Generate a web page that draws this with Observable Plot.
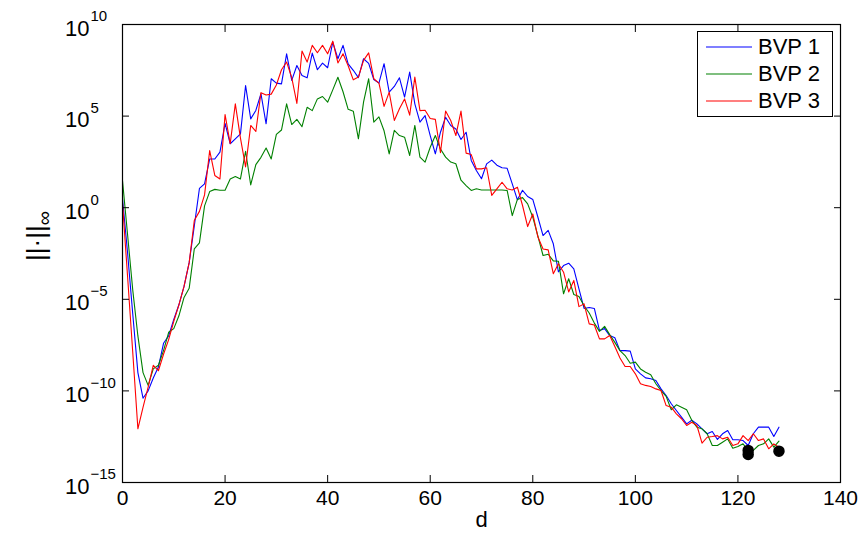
<!DOCTYPE html>
<html><head><meta charset="utf-8">
<script src="https://cdn.jsdelivr.net/npm/d3@7"></script>
<script src="https://cdn.jsdelivr.net/npm/@observablehq/plot@0.6"></script>
<style>
body{margin:0;background:#fff;}
#wrap{position:relative;width:865px;height:538px;font-family:"Liberation Sans",Arial,sans-serif;}
#legend{position:absolute;left:697px;top:31px;width:136px;height:86px;border:1px solid #000;background:#fff;box-sizing:border-box;}
.row{position:absolute;left:0;height:26px;display:flex;align-items:center;font-size:22px;color:#000;}
.row svg{margin-left:8px;margin-right:6px;}
</style></head><body><div id="wrap"><div id="legend"></div></div>
<script>
// x values (d) and log10 of ||.||_inf for each series
const dValues = d3.range(0, 129);
const names = ["BVP 1", "BVP 2", "BVP 3"];
const colors = ["#0000ff", "#008000", "#ff0000"];
const xTicks = [0, 20, 40, 60, 80, 100, 120, 140];
const yTicks = [1e-15, 1e-10, 1e-5, 1e0, 1e5, 1e10];
const yTickExp = ["−15", "−10", "−5", "0", "5", "10"];

const bvp1Log = [0.5,-2.5,-5.8,-9.0,-10.4,-10.0,-9.3,-8.7,-7.4,-7.0,
-6.1,-5.3,-4.3,-3.0,-1.0,1.05,1.3,2.66,2.66,3.03,
4.6,3.49,3.76,4.03,6.67,4.85,5.31,6.22,4.58,7.04,
6.8,6.76,8.4,6.95,7.76,7.22,7.09,8.44,7.53,7.89,
7.64,9.04,8.13,8.86,7.85,7.5,7.1,8.13,7.88,7.0,
6.8,7.86,6.31,6.62,7.09,6.04,7.4,5.67,4.67,5.03,
3.94,2.94,4.12,4.94,4.49,4.3,3.72,4.12,2.58,2.03,
1.58,2.39,2.6,2.32,2.18,2.15,1.3,0.43,0.95,0.61,
0.45,-0.52,-1.52,-1.24,-1.97,-3.5,-3.16,-3.03,-3.34,-4.43,
-5.5,-5.45,-5.5,-6.7,-6.6,-6.98,-7.1,-7.8,-7.8,-7.83,
-8.8,-9.07,-9.29,-9.34,-9.43,-9.89,-10.25,-10.7,-11.07,-11.43,
-11.8,-11.6,-11.8,-12.07,-12.34,-12.22,-12.65,-12.34,-12.16,-12.67,
-12.67,-12.71,-12.98,-12.34,-11.98,-11.98,-11.98,-12.49,-11.98];

const bvp2Log = [1.48,-1.5,-4.5,-7.0,-9.0,-9.7,-8.8,-8.6,-7.8,-6.8,
-6.6,-5.9,-4.9,-4.4,-2.25,-1.92,0.1,0.88,1.0,0.95,
0.95,1.57,1.7,1.57,3.08,1.24,2.35,2.75,3.26,2.66,
4.0,4.24,5.67,4.54,4.82,4.42,5.48,5.3,5.94,6.07,
5.76,6.43,7.12,6.33,5.37,5.27,3.76,5.76,7.04,4.67,
4.96,4.2,2.94,4.22,3.94,3.85,2.85,4.49,2.76,2.49,
3.3,3.94,3.2,2.76,2.49,2.4,1.5,1.21,0.94,1.03,
0.97,0.97,0.97,0.97,0.97,0.94,-0.43,0.45,0.55,0.21,
-0.52,-1.55,-2.61,-2.54,-2.9,-2.92,-4.7,-3.88,-4.74,-4.85,
-5.35,-5.75,-6.3,-6.75,-6.48,-6.93,-7.35,-7.8,-8.07,-8.49,
-8.43,-8.8,-8.98,-9.12,-9.61,-9.98,-10.3,-11.03,-10.76,-10.89,
-11.03,-11.6,-11.98,-12.07,-12.34,-12.98,-12.98,-12.8,-12.62,-13.13,
-13.04,-12.89,-13.25,-13.25,-12.98,-12.89,-12.62,-13.07,-12.74];

const bvp3Log = [0.25,-3.8,-7.9,-12.07,-10.9,-9.8,-8.6,-8.9,-8.0,-7.2,
-6.2,-5.3,-4.3,-3.0,-0.7,-0.2,0.7,3.12,1.76,1.57,
5.08,3.5,5.67,3.8,2.23,4.49,4.16,6.28,6.15,6.2,
6.7,7.53,7.95,7.1,5.69,8.55,7.95,8.86,8.46,8.86,
8.4,9.09,7.9,8.4,7.75,6.98,7.13,8.04,8.45,7.04,
6.8,5.53,6.31,4.76,5.4,5.94,5.05,7.13,5.3,5.32,
4.87,4.82,3.0,5.28,4.76,3.94,5.27,2.98,2.9,2.12,
2.12,2.18,0.67,1.03,1.39,1.03,0.97,1.12,0.12,-1.03,
-0.34,-1.6,-2.25,-2.3,-3.6,-3.06,-3.52,-4.6,-3.97,-5.4,
-5.25,-6.34,-6.4,-7.16,-7.16,-6.98,-7.58,-8.2,-8.67,-8.67,
-9.07,-9.61,-9.7,-9.76,-9.89,-9.98,-10.8,-10.89,-11.25,-11.52,
-11.89,-11.71,-11.89,-12.85,-12.53,-12.49,-12.44,-12.62,-12.53,-12.98,
-12.89,-12.44,-12.71,-12.34,-12.71,-12.62,-13.16,-12.89,-13.07];

const dotD = [122, 122, 128];
const dotLog = [-13.25, -13.47, -13.29];

const seriesLogs = [bvp1Log, bvp2Log, bvp3Log];
const data = [];
seriesLogs.forEach((vals, k) => vals.forEach((v, i) => data.push({d: dValues[i], v: Math.pow(10, v), name: names[k]})));
const dots = dotD.map((d, i) => ({d, v: Math.pow(10, dotLog[i])}));
const tickRows = yTicks.map((t, i) => ({t, e: yTickExp[i]}));

const font = "Liberation Sans, Arial, Helvetica, sans-serif";
const plot = Plot.plot({
  width: 865, height: 538,
  marginLeft: 122, marginRight: 25, marginTop: 24, marginBottom: 56,
  style: {fontFamily: font, fontSize: "21px", background: "white", color: "black", overflow: "visible"},
  x: {domain: [0, 140], label: null},
  y: {type: "log", domain: [1e-15, 1e10], label: null},
  color: {domain: names, range: colors},
  marks: [
    Plot.lineY(data, {x: "d", y: "v", stroke: "name", strokeWidth: 1.1}),
    Plot.dot(dots, {x: "d", y: "v", r: 5, fill: "black", stroke: "black"}),
    Plot.frame({stroke: "black", strokeWidth: 1.2}),
    Plot.axisX({anchor: "bottom", ticks: xTicks, tickSize: -7, tickPadding: 15, label: null, fontSize: 21}),
    Plot.axisX({anchor: "top", ticks: xTicks, tickSize: -7, tickFormat: () => "", label: null}),
    Plot.axisY({anchor: "left", ticks: yTicks, tickSize: -7, tickFormat: () => "", label: null}),
    Plot.axisY({anchor: "right", ticks: yTicks, tickSize: -7, tickFormat: () => "", label: null}),
    Plot.text(tickRows, {y: "t", frameAnchor: "left", dx: -33, dy: 4, textAnchor: "end", text: () => "10", fontSize: 22}),
    Plot.text(tickRows, {y: "t", frameAnchor: "left", dx: -32, dy: -8, textAnchor: "start", text: "e", fontSize: 15}),
    Plot.text(["d"], {frameAnchor: "bottom", dy: 44, text: d => d, fontSize: 22})
  ]
});
document.getElementById("wrap").prepend(plot);

// y-axis label ||·||∞ (rotated, with subscript)
const lab = d3.select(plot).append("text")
  .attr("transform", "translate(45,236) rotate(-90)")
  .attr("text-anchor", "middle")
  .attr("font-family", font)
  .attr("font-size", 26)
  .attr("fill", "black");
lab.append("tspan").text("||·||");
lab.append("tspan").attr("font-size", 20).attr("dy", 6).text("∞");

// legend
const leg = document.getElementById("legend");
names.forEach((n, i) => {
  const row = document.createElement("div");
  row.className = "row";
  row.style.top = (2 + i * 27) + "px";
  row.innerHTML = `<svg width="46" height="4"><line x1="0" x2="46" y1="2" y2="2" stroke="${colors[i]}" stroke-width="1.2"/></svg><span>${n}</span>`;
  leg.appendChild(row);
});
</script>
</body></html>
